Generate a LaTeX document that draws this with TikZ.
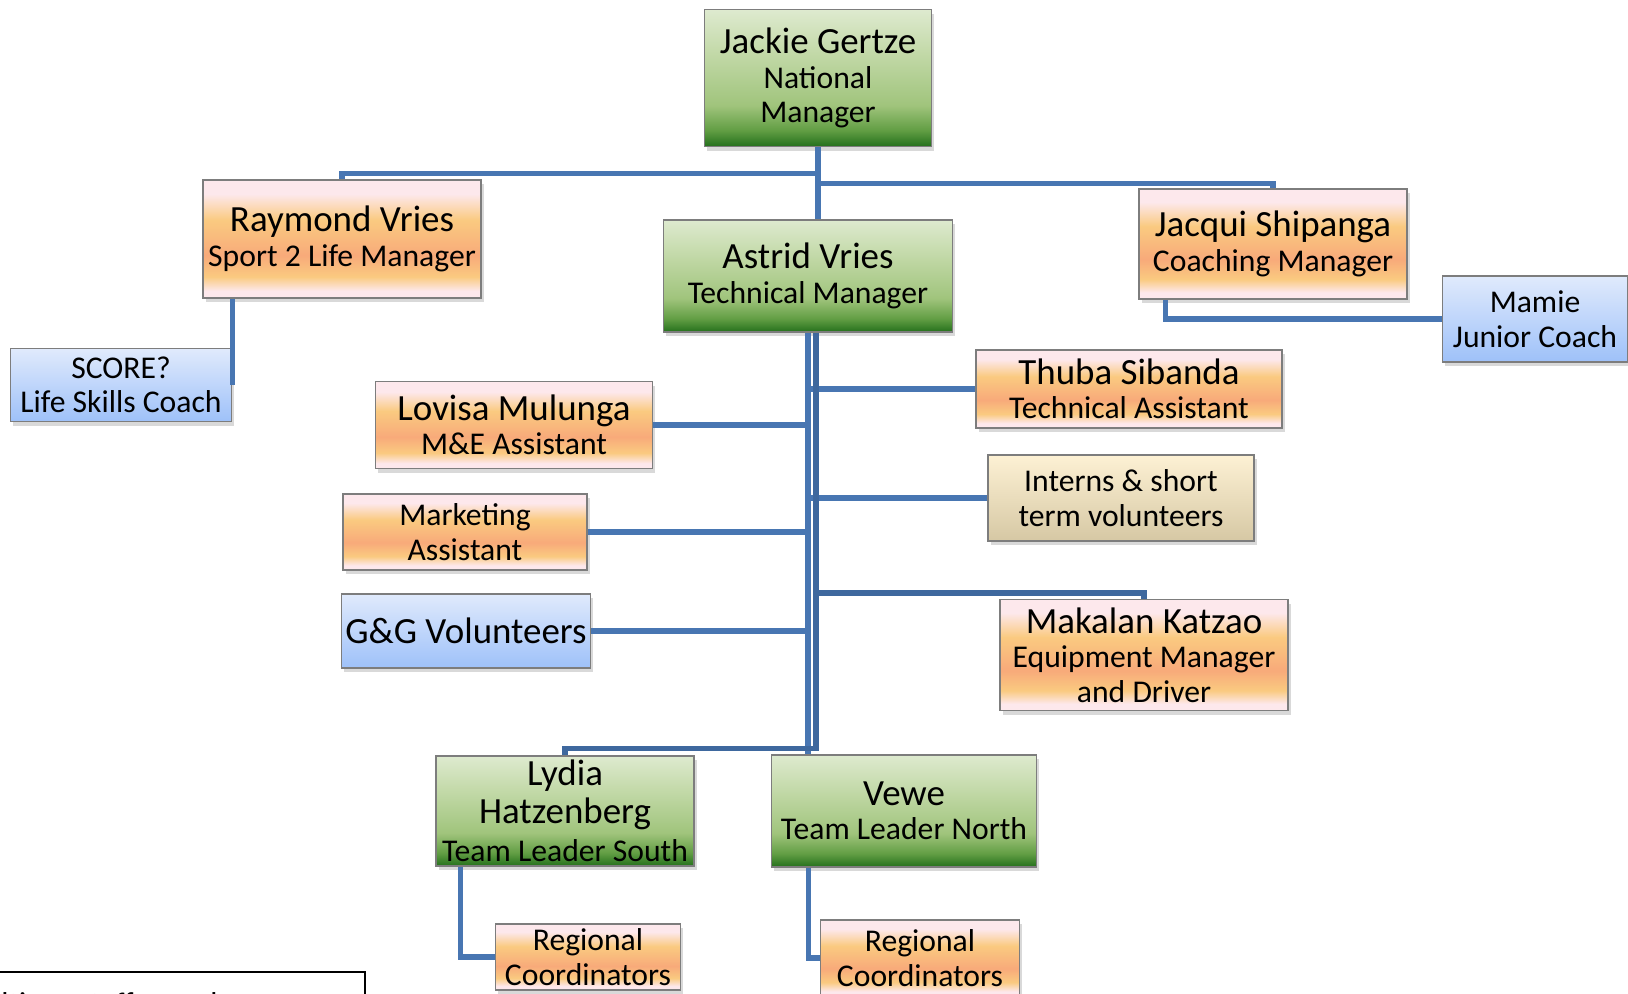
\documentclass[tikz,border=0pt]{standalone}
\usepackage{fontspec}
\setmainfont{Carlito}
\usetikzlibrary{positioning, shadows}

\definecolor{linkblue}{RGB}{72,118,178}
\definecolor{linkdark}{RGB}{62,104,158}
\definecolor{boxline}{RGB}{125,125,125}
\definecolor{gtop}{RGB}{222,234,207}
\definecolor{gupper}{RGB}{196,218,170}
\definecolor{gmid}{RGB}{160,196,124}
\definecolor{glow}{RGB}{98,158,68}
\definecolor{gbot}{RGB}{36,112,28}
\definecolor{opink}{RGB}{253,232,236}
\definecolor{oyel}{RGB}{250,202,128}
\definecolor{osal}{RGB}{248,170,122}
\definecolor{btop}{RGB}{224,234,252}
\definecolor{bbot}{RGB}{158,193,249}
\definecolor{ctop}{RGB}{253,241,212}
\definecolor{cmid}{RGB}{242,234,214}
\definecolor{cbot}{RGB}{214,200,164}

\pgfdeclareverticalshading{greenfade}{100bp}{color(0bp)=(gbot); color(25bp)=(gbot);
  color(31bp)=(glow); color(40bp)=(gmid); color(60bp)=(gupper); color(75bp)=(gtop); color(100bp)=(gtop)}
\pgfdeclareverticalshading{orangeband}{100bp}{color(0bp)=(opink); color(25bp)=(opink);
  color(28bp)=(opink); color(34bp)=(oyel); color(43bp)=(osal); color(58bp)=(oyel); color(69bp)=(opink); color(100bp)=(opink)}

\newcommand{\nm}{\fontsize{10.5}{12}\selectfont}
\newcommand{\rl}{\fontsize{9}{9.8}\selectfont}

\begin{document}
\begin{tikzpicture}[x=0.01cm, y=-0.01cm,
    card/.style={draw=boxline, line width=0.4pt, align=center, inner sep=1pt, font=\rl,
      drop shadow={shadow xshift=0.8pt, shadow yshift=-1.2pt, opacity=0.3}},
    mgr/.style={card, shade, shading=greenfade},
    staff/.style={card, shade, shading=orangeband},
    vol/.style={card, top color=btop, bottom color=bbot},
    temp/.style={card, top color=ctop, middle color=cmid, bottom color=cbot},
    link/.style={draw=linkblue, line width=1.55pt},
    linkr/.style={draw=linkdark, line width=1.55pt},
  ]
  \useasboundingbox (0,0) rectangle (1628,993);

  % people
  \node[mgr, minimum width=2.27cm, minimum height=1.37cm] (jg) at (818,78) {\nm Jackie Gertze\\ National\\ Manager};
  \node[staff, minimum width=2.78cm, minimum height=1.18cm] (rv) at (342,239) {\nm Raymond Vries\\ Sport 2 Life Manager};
  \node[mgr, minimum width=2.89cm, minimum height=1.12cm] (av) at (808,276) {\nm Astrid Vries\\ Technical Manager};
  \node[staff, minimum width=2.68cm, minimum height=1.10cm] (js) at (1273,244) {\nm Jacqui Shipanga\\ Coaching Manager};
  \node[vol, minimum width=1.85cm, minimum height=0.86cm] (mm) at (1535,319) {Mamie\\ Junior Coach};
  \node[vol, minimum width=2.21cm, minimum height=0.73cm] (sc) at (121,385) {SCORE?\\ Life Skills Coach};
  \node[staff, minimum width=3.06cm, minimum height=0.78cm] (ts) at (1129,389) {\nm Thuba Sibanda\\ Technical Assistant};
  \node[staff, minimum width=2.77cm, minimum height=0.87cm] (lm) at (514,425) {\nm Lovisa Mulunga\\ M\&E Assistant};
  \node[temp, minimum width=2.66cm, minimum height=0.86cm] (it) at (1121,498) {Interns \& short\\ term volunteers};
  \node[staff, minimum width=2.44cm, minimum height=0.76cm] (ma) at (465,532) {Marketing\\ Assistant};
  \node[vol, minimum width=2.49cm, minimum height=0.74cm, font=\nm] (gg) at (466,631) {G\&G Volunteers};
  \node[staff, minimum width=2.88cm, minimum height=1.11cm] (mk) at (1144,655) {\nm Makalan Katzao\\ Equipment Manager\\ and Driver};
  \node[mgr, minimum width=2.58cm, minimum height=1.10cm] (lh) at (565,811) {\nm Lydia\\[1pt] \nm Hatzenberg\\[1pt] Team Leader South};
  \node[mgr, minimum width=2.65cm, minimum height=1.12cm] (vw) at (904,811) {\nm Vewe\\ Team Leader North};
  \node[staff, minimum width=1.85cm, minimum height=0.66cm] (rc1) at (588,957) {Regional\\ Coordinators};
  \node[staff, minimum width=1.99cm, minimum height=0.76cm] (rc2) at (920,958) {Regional\\ Coordinators};
  \node[draw=black, line width=0.6pt, anchor=north west, text width=3.9cm, align=left,
    inner xsep=0.12cm, inner ysep=0.2cm, font=\rl] (ft) at (-50,971) {Fulltime staff member};

  % lines
  \draw[link] (jg.south) -- (jg.south |- av.north);
  \draw[link] (jg.south) -- ++(0,26) -| (rv.north);
  \draw[link] (jg.south) -- ++(0,36) -| (js.north);
  \draw[link] (rv.south -| sc.east) -- (sc.east);
  \draw[link] ([xshift=0.27cm]js.south west) |- (mm.west);
  \draw[link] (av.south) |- (lm.east);
  \draw[link] (av.south) |- (ma.east);
  \draw[link] (av.south) |- (gg.east);
  \draw[link] (av.south) |- (ts.west);
  \draw[link] (av.south) |- (it.west);
  \draw[link] (av.south) -- (av.south |- vw.north);
  \draw[linkr] ([xshift=0.08cm]av.south) |- ([yshift=0.06cm]mk.north) -- (mk.north);
  \draw[linkr] ([xshift=0.08cm]av.south) |- ([yshift=0.07cm]lh.north) -- (lh.north);
  \draw[link] ([xshift=0.25cm]lh.south west) |- (rc1.west);
  \draw[link] ([xshift=0.38cm]vw.south west) |- (rc2.west);
\end{tikzpicture}
\end{document}
